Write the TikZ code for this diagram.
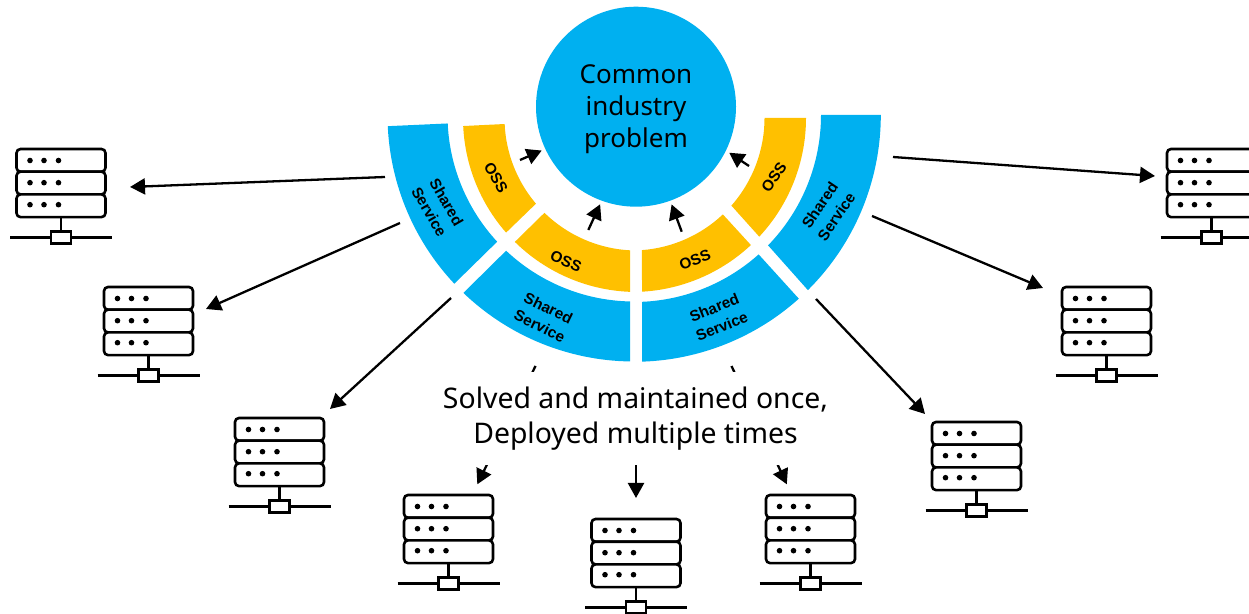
\documentclass[tikz,border=0pt]{standalone}
\usepackage{fontspec}
\setmainfont{Noto Sans}
\newfontfamily\labelfont{Liberation Sans}[BoldFont={Liberation Sans Bold}]
\usetikzlibrary{arrows.meta,calc}
\definecolor{skyblue}{HTML}{00B0F0}
\definecolor{amber}{HTML}{FFC000}
\newcommand{\ringcut}[8]{% colour, centre, outer radius, outer angles, inner radius, inner angles
  \fill[#1] ($(#2)+(#4:#3)$) arc[start angle=#4,end angle=#5,radius=#3]
    -- ($(#2)+(#8:#6)$) arc[start angle=#8,end angle=#7,radius=#6] -- cycle;
}
\tikzset{
  flow/.style={line width=2.3pt,-{Triangle[length=15pt,width=16pt]}},
  flat/.style={line width=2.4pt},
  rack/.style={draw,line width=2.6pt,rounded corners=4pt,fill=white,inner sep=0pt,outer sep=0pt,
    minimum width=89pt,minimum height=22.7pt},
  tap/.style={draw,line width=2.6pt,fill=white,inner sep=0pt,outer sep=0pt,
    minimum width=20pt,minimum height=12.5pt},
  tag/.style={font=\labelfont\bfseries\fontsize{15.3}{20}\selectfont,align=center,inner sep=0pt},
  server/.pic={
    \node[rack] (-a) at (44.5,-11.35) {};
    \node[rack] (-b) at (44.5,-34.05) {};
    \node[rack] (-c) at (44.5,-56.75) {};
    \foreach \dx in {13.5,27.5,42} {
      \foreach \dy in {-11.5,-33.7,-55.7} {
        \fill (\dx,\dy) circle (2.8);
      }
    }
    \coordinate (-w) at (-6.5,-88.5);
    \coordinate (-e) at (95.5,-88.5);
    \node[tap] (-t) at (44.5,-88.5) {};
    \draw[flat] (-w) -- (-t);
    \draw[flat] (-t) -- (-e);
    \draw[flat] (-c.south -| -t) -- (-t);
  },
}
\begin{document}
\begin{tikzpicture}[x=1pt,y=1pt]
  \useasboundingbox (0,0) rectangle (1249,613);
  \coordinate (hub) at (634,498);
  \coordinate (hubL) at (637,495);
  \coordinate (hubR) at (632,495);

  % rings
  \ringcut{skyblue}{hub}{246.5}{182.6}{223.2}{186.5}{182.6}{222.8}
  \ringcut{skyblue}{hub}{246.5}{226.2}{269.07}{186.5}{226.7}{268.77}
  \ringcut{skyblue}{hub}{246.8}{-88.13}{-48.1}{187}{-87.55}{-48.2}
  \ringcut{skyblue}{hub}{246.8}{-45.2}{0}{187}{-44.2}{0}
  \ringcut{amber}{hubL}{174}{182.65}{221.2}{132.5}{182.6}{220.3}
  \ringcut{amber}{hubL}{174}{225.4}{267.7}{132.5}{225.7}{267}
  \ringcut{amber}{hubR}{174}{-86.7}{-46.9}{132.5}{-85.7}{-46.7}
  \ringcut{amber}{hubR}{174}{-43}{0}{132.5}{-41.4}{0}

  \node[circle,fill=skyblue,minimum size=200pt,inner sep=0pt,outer sep=0pt] (problem) at (636,506.3) {};
  \node[align=center,inner sep=0pt,font=\fontsize{26}{32}\selectfont] (problemtext) at (636,503.6) {Common\\industry\\problem};

  \node[tag,rotate=-60] (shared1) at (438,406) {Shared\\Service};
  \node[tag,rotate=-26] (shared2) at (544,296) {Shared\\Service};
  \node[tag,rotate=22] (shared3) at (718,296) {Shared\\Service};
  \node[tag,rotate=56] (shared4) at (828,402) {Shared\\Service};
  \node[tag,rotate=-60] (oss1) at (496,435) {OSS};
  \node[tag,rotate=-24] (oss2) at (566,352) {OSS};
  \node[tag,rotate=21] (oss3) at (695,353) {OSS};
  \node[tag,rotate=55] (oss4) at (774,436) {OSS};

  % servers
  \foreach \n/\sx/\sy in {1/16.5/464,2/104/326,3/235/195,4/404/118,5/591.5/94,6/766/118,7/932/191,8/1062/326,9/1167/464} {
    \pic (srv\n) at (\sx,\sy) {server};
  }

  % connectors out to the servers
  \foreach \n/\xa/\ya/\xb/\yb in {1/385/436/130/426,2/400/390/206/304,3/451/315/330/204,
    4/535.5/247/477.3/128.7,5/731.5/247/786.8/128.7,6/816/314/925/199,7/872/397/1043/325,8/893/456/1155/437} {
    \coordinate (tail\n) at (\xa,\ya);
    \coordinate (tip\n) at (\xb,\yb);
    \draw[flow] (tail\n) -- (tip\n);
  }

  \node[fill=white,inner sep=0pt,minimum width=395pt,minimum height=93pt,align=center,
    font=\fontsize{28.4}{35}\selectfont] (solved) at (635.5,194.5) {Solved and maintained once,\\Deployed multiple times};
  \coordinate (tipM) at (636,115);
  \draw[flow] (solved.south -| tipM) -- (tipM);

  % connectors in to the problem
  \foreach \n/\xa/\ya/\ang in {A/520/453/205,B/588.3/383/250,C/749/447/-26.4,D/681.7/381.3/-70.7} {
    \coordinate (tail\n) at (\xa,\ya);
    \draw[flow,shorten >=4pt] (tail\n) -- (problem.\ang);
  }
\end{tikzpicture}
\end{document}
